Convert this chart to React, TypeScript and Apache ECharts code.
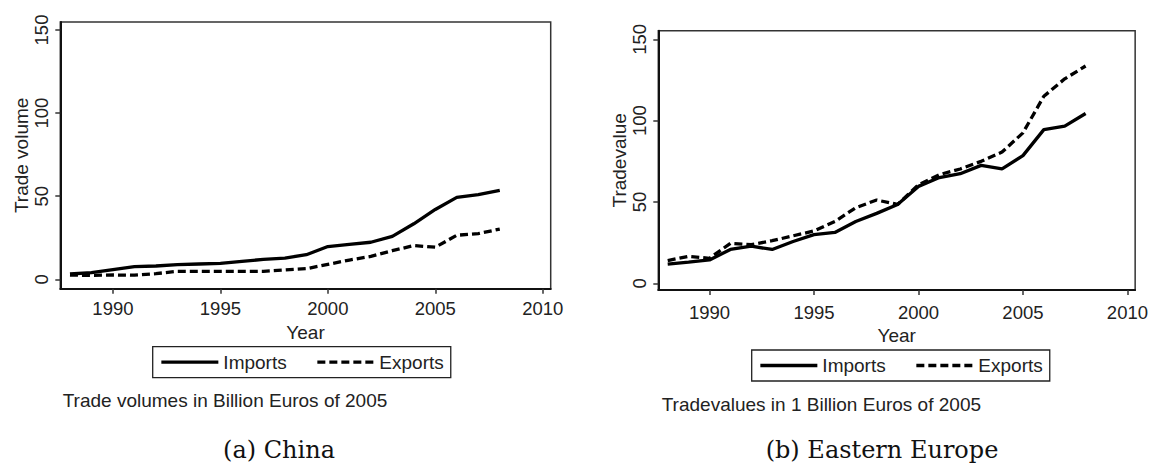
import React, { useEffect, useRef } from "react";
import * as echarts from "echarts";

const years = [1988, 1989, 1990, 1991, 1992, 1993, 1994, 1995, 1996, 1997, 1998, 1999, 2000, 2001, 2002, 2003, 2004, 2005, 2006, 2007, 2008];
const chinaImports = [3.2, 4, 5.8, 7.6, 8, 8.8, 9.2, 9.6, 10.8, 12, 12.8, 14.8, 19.7, 21, 22.3, 25.8, 33.4, 42, 49.3, 51, 53.5];
const chinaExports = [2.5, 2.4, 2.6, 2.5, 3.4, 4.8, 4.8, 4.8, 4.8, 4.8, 5.6, 6.4, 9, 11.6, 13.8, 17.2, 20.3, 19.3, 26.5, 27.5, 30.2];
const eeImports = [11.8, 13, 14.4, 20.8, 22.8, 20.8, 25.7, 29.9, 31.3, 38, 43, 48.5, 59.6, 65, 67.4, 72.5, 70.3, 78.5, 94.5, 96.6, 104.4];
const eeExports = [14, 16.6, 15.4, 24.6, 23.8, 26.2, 29.2, 32.2, 38, 46.5, 51.2, 48.5, 60.6, 66.8, 70.3, 75, 80.7, 92.5, 115, 125.7, 133.6];

const xTicks = [1990, 1995, 2000, 2005, 2010];
const yTicks = [0, 50, 100, 150];
const seriesNames = ["Imports", "Exports"];
const yNames = ["Trade volume", "Tradevalue"];
const notes = ["Trade volumes in Billion Euros of 2005", "Tradevalues in 1 Billion Euros of 2005"];
const captions = ["(a) China", "(b) Eastern Europe"];

const SANS = '"Liberation Sans", Arial, sans-serif';
const TXT = "#222";

function pairs(vals: number[]) {
  return years.map((y, i) => [y, vals[i]]);
}

export default function App() {
  const ref = useRef<HTMLDivElement>(null);
  useEffect(() => {
    if (!ref.current) return;
    const chart = echarts.init(ref.current, undefined, { renderer: "svg" });

    const grids = [
      { left: 60.3, top: 22, width: 490.4, height: 266.7 },
      { left: 658.3, top: 30.7, width: 481, height: 259.3 },
    ];
    const yRanges = [
      [-5.65, 154.8],
      [-4.1, 155.3],
    ];
    const xMargins = [10, 12.5];
    const nameGaps = [30, 32];

    const xAxis = grids.map((_, i) => ({
      gridIndex: i,
      type: "value",
      min: 1987.55,
      max: 2010.37,
      axisLine: { show: true, onZero: false, lineStyle: { color: "#111", width: 2 } },
      axisTick: { show: true, customValues: xTicks, length: 5, lineStyle: { color: "#333", width: 1.5 } },
      axisLabel: {
        customValues: xTicks,
        margin: xMargins[i],
        fontSize: 18.5,
        fontFamily: SANS,
        color: TXT,
        formatter: (v: number) => String(v),
      },
      splitLine: { show: false },
      name: "Year",
      nameLocation: "middle",
      nameGap: nameGaps[i],
      nameTextStyle: { fontSize: 19, fontFamily: SANS, color: TXT },
    }));

    const yAxis = grids.map((_, i) => ({
      gridIndex: i,
      type: "value",
      min: yRanges[i][0],
      max: yRanges[i][1],
      axisLine: { show: true, onZero: false, lineStyle: { color: "#111", width: 2 } },
      axisTick: { show: true, customValues: yTicks, length: 5, lineStyle: { color: "#333", width: 1.5 } },
      axisLabel: {
        customValues: yTicks,
        rotate: 90,
        margin: 9,
        fontSize: 18.5,
        fontFamily: SANS,
        color: TXT,
        formatter: (v: number) => String(v),
      },
      splitLine: { show: false },
      name: yNames[i],
      nameLocation: "middle",
      nameRotate: 90,
      nameGap: 29,
      nameTextStyle: { fontSize: 19, fontFamily: SANS, color: TXT },
    }));

    const panelData = [
      [chinaImports, chinaExports],
      [eeImports, eeExports],
    ];
    const series: any[] = [];
    panelData.forEach((pd, i) => {
      pd.forEach((vals, k) => {
        series.push({
          type: "line",
          name: seriesNames[k],
          xAxisIndex: i,
          yAxisIndex: i,
          data: pairs(vals),
          symbol: "none",
          showSymbol: false,
          color: "#000",
          lineStyle: { color: "#000", width: 3.3, type: k === 0 ? "solid" : [8, 4] },
          z: 3 + k,
        });
      });
    });

    const legendPos = [
      { left: 152.7, top: 346.7 },
      { left: 751.7, top: 350 },
    ];
    const legend = legendPos.map((p) => ({
      ...p,
      orient: "horizontal",
      data: seriesNames,
      selectedMode: false,
      itemWidth: 57,
      itemHeight: 20,
      itemGap: 29,
      padding: [6, 7, 6, 7],
      borderColor: "#222",
      borderWidth: 1.3,
      itemStyle: { color: "rgba(0,0,0,0)", borderWidth: 0, opacity: 0 },
      lineStyle: { width: 3.3, color: "#000" },
      textStyle: { fontSize: 19, fontFamily: SANS, color: TXT },
    }));

    const notePos = [
      [62.7, 400.7],
      [661.7, 404],
    ];
    const capPos = [
      [279, 450],
      [882, 450],
    ];
    const graphic: any[] = [];
    notes.forEach((t, i) => {
      graphic.push({
        type: "text",
        x: notePos[i][0],
        y: notePos[i][1],
        style: { text: t, font: `19px ${SANS}`, fill: TXT, align: "left", verticalAlign: "middle" },
      });
    });
    captions.forEach((t, i) => {
      graphic.push({
        type: "text",
        x: capPos[i][0],
        y: capPos[i][1],
        style: { text: t, font: '24px "DejaVu Serif", serif', fill: "#111", align: "center", verticalAlign: "middle" },
      });
    });

    chart.setOption({
      animation: false,
      backgroundColor: "#fff",
      grid: grids.map((g) => ({ ...g, show: true, borderColor: "#333", borderWidth: 1.5, containLabel: false })),
      xAxis,
      yAxis,
      series,
      legend,
      graphic,
    } as any);

    return () => chart.dispose();
  }, []);

  return (
    <div
      ref={ref}
      style={{ position: "absolute", left: 0, top: 0, width: 1151, height: 466, background: "#fff" }}
    />
  );
}
